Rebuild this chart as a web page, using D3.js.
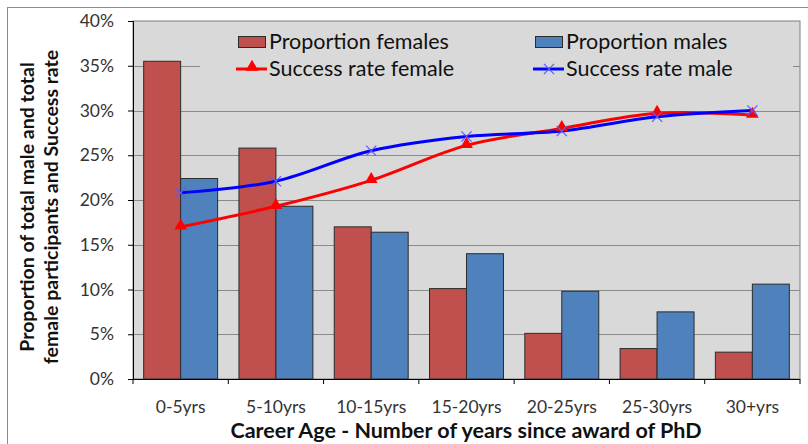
<!DOCTYPE html>
<html>
  <head>
    <meta charset="utf-8">
    <title>Career Age chart</title>
    <script src="https://d3js.org/d3.v7.min.js"></script>
    <style>
      body { margin: 0; background: #fff; }
      text { font-family: Lato, "Open Sans", sans-serif; }
    </style>
  </head>
  <body>
    <div id="chart"></div>
    <script>
      // chart data
      const categories = ["0-5yrs", "5-10yrs", "10-15yrs", "15-20yrs", "20-25yrs", "25-30yrs", "30+yrs"];
      const propFemales = [0.355, 0.258, 0.170, 0.101, 0.051, 0.034, 0.030];
      const propMales = [0.224, 0.193, 0.164, 0.140, 0.098, 0.075, 0.106];
      const successFemale = [0.170, 0.193, 0.222, 0.261, 0.280, 0.297, 0.295];
      const successMale = [0.208, 0.221, 0.255, 0.271, 0.277, 0.293, 0.300];
      const yTicks = [0, 0.05, 0.10, 0.15, 0.20, 0.25, 0.30, 0.35, 0.40];

      const W = 808, H = 444;
      const plot = {left: 133, right: 800, top: 21, bottom: 379};

      const svg = d3.select("#chart")
        .append("svg")
        .attr("width", W)
        .attr("height", H);

      // outer frame
      svg.append("rect")
        .attr("x", 7.5).attr("y", 7.5)
        .attr("width", W - 4).attr("height", H)
        .attr("fill", "#fff")
        .attr("stroke", "#8c8c8c");

      const x = d3.scaleBand()
        .domain(categories)
        .range([plot.left, plot.right])
        .paddingInner(0.224)
        .paddingOuter(0.112);
      const xSub = d3.scaleBand()
        .domain(["f", "m"])
        .range([0, x.bandwidth()]);
      const y = d3.scaleLinear()
        .domain([0, 0.4])
        .range([plot.bottom, plot.top]);

      // plot background
      svg.append("rect")
        .attr("x", plot.left).attr("y", plot.top)
        .attr("width", plot.right - plot.left)
        .attr("height", plot.bottom - plot.top)
        .attr("fill", "#d9d9d9")
        .attr("stroke", "#7f7f7f");

      // gridlines
      svg.append("g")
        .selectAll("line")
        .data(yTicks.slice(1, -1))
        .join("line")
        .attr("x1", plot.left).attr("x2", plot.right)
        .attr("y1", d => Math.round(y(d)) + 0.5)
        .attr("y2", d => Math.round(y(d)) + 0.5)
        .attr("stroke", "#8a8a8a")
        .attr("stroke-width", 1.2);

      // legend background hides gridline behind it
      svg.append("rect")
        .attr("x", 200).attr("y", 26)
        .attr("width", 593).attr("height", 60)
        .attr("fill", "#d9d9d9");

      // bars
      const groups = svg.append("g")
        .selectAll("g")
        .data(categories)
        .join("g")
        .attr("transform", d => `translate(${x(d)},0)`);
      groups.append("rect")
        .attr("x", xSub("f"))
        .attr("width", xSub.bandwidth())
        .attr("y", (d, i) => y(propFemales[i]))
        .attr("height", (d, i) => y(0) - y(propFemales[i]))
        .attr("fill", "#c0504d")
        .attr("stroke", "#2b2b2b")
        .attr("stroke-width", 1);
      groups.append("rect")
        .attr("x", xSub("m"))
        .attr("width", xSub.bandwidth())
        .attr("y", (d, i) => y(propMales[i]))
        .attr("height", (d, i) => y(0) - y(propMales[i]))
        .attr("fill", "#4f81bd")
        .attr("stroke", "#2b2b2b")
        .attr("stroke-width", 1);

      // axes
      const yAxis = d3.axisLeft(y)
        .tickValues(yTicks)
        .tickFormat(d3.format(".0%"))
        .tickSize(5)
        .tickPadding(14);
      const gy = svg.append("g")
        .attr("transform", `translate(${plot.left},0)`)
        .call(yAxis);
      gy.select(".domain").attr("stroke", "#000");
      gy.selectAll("text").attr("font-size", 17.5).attr("fill", "#333");

      const gx = svg.append("g");
      gx.append("line")
        .attr("x1", plot.left).attr("x2", plot.right)
        .attr("y1", plot.bottom + 0.5).attr("y2", plot.bottom + 0.5)
        .attr("stroke", "#000");
      gx.selectAll(".tick")
        .data(d3.range(categories.length + 1))
        .join("line")
        .attr("class", "tick")
        .attr("x1", i => plot.left + i * x.step())
        .attr("x2", i => plot.left + i * x.step())
        .attr("y1", plot.bottom).attr("y2", plot.bottom + 5)
        .attr("stroke", "#000");
      gx.selectAll("text")
        .data(categories)
        .join("text")
        .attr("x", d => x(d) + x.bandwidth() / 2)
        .attr("y", 413)
        .attr("text-anchor", "middle")
        .attr("font-size", 17.5)
        .attr("fill", "#333")
        .text(d => d);

      // success rate lines
      const line = d3.line()
        .x((d, i) => x(categories[i]) + x.bandwidth() / 2)
        .y(d => y(d))
        .curve(d3.curveCatmullRom.alpha(0.5));

      svg.append("path")
        .datum(successFemale)
        .attr("d", line)
        .attr("fill", "none")
        .attr("stroke", "#ff0000")
        .attr("stroke-width", 3);
      svg.append("path")
        .datum(successMale)
        .attr("d", line)
        .attr("fill", "none")
        .attr("stroke", "#0000ff")
        .attr("stroke-width", 3);

      const tri = d3.symbol().type(d3.symbolTriangle).size(70);
      svg.append("g")
        .selectAll("path")
        .data(successFemale)
        .join("path")
        .attr("d", tri)
        .attr("transform", (d, i) => `translate(${x(categories[i]) + x.bandwidth() / 2},${y(d) - 1})`)
        .attr("fill", "#ff0000");
      const cross = d3.symbol().type(d3.symbolX).size(70);
      svg.append("g")
        .selectAll("path")
        .data(successMale)
        .join("path")
        .attr("d", cross)
        .attr("transform", (d, i) => `translate(${x(categories[i]) + x.bandwidth() / 2},${y(d)})`)
        .attr("fill", "none")
        .attr("stroke", "#5a5aff")
        .attr("stroke-width", 1.2);

      // legend
      const legend = svg.append("g");
      legend.append("rect")
        .attr("x", 238.5).attr("y", 36.5).attr("width", 27).attr("height", 11)
        .attr("fill", "#c0504d").attr("stroke", "#2b2b2b");
      legend.append("rect")
        .attr("x", 535.5).attr("y", 36.5).attr("width", 27).attr("height", 11)
        .attr("fill", "#4f81bd").attr("stroke", "#2b2b2b");
      legend.append("line")
        .attr("x1", 236).attr("x2", 267).attr("y1", 69).attr("y2", 69)
        .attr("stroke", "#ff0000").attr("stroke-width", 3);
      legend.append("path")
        .attr("d", tri)
        .attr("transform", "translate(252,67)")
        .attr("fill", "#ff0000");
      legend.append("line")
        .attr("x1", 533).attr("x2", 564).attr("y1", 69).attr("y2", 69)
        .attr("stroke", "#0000ff").attr("stroke-width", 3);
      legend.append("path")
        .attr("d", cross)
        .attr("transform", "translate(549,69)")
        .attr("fill", "none").attr("stroke", "#5a5aff").attr("stroke-width", 1.2);
      const legendText = [
        {t: "Proportion females", x: 269, y: 49},
        {t: "Proportion males", x: 566, y: 49},
        {t: "Success rate female", x: 269, y: 76},
        {t: "Success rate male", x: 566, y: 76}
      ];
      legend.selectAll("text")
        .data(legendText)
        .join("text")
        .attr("x", d => d.x).attr("y", d => d.y)
        .attr("font-size", 21.5)
        .attr("fill", "#111")
        .text(d => d.t);

      // axis titles
      svg.append("text")
        .attr("x", 466).attr("y", 438)
        .attr("text-anchor", "middle")
        .attr("font-size", 21.5)
        .attr("font-weight", "bold")
        .attr("fill", "#111")
        .text("Career Age - Number of years since award of PhD");
      const yTitle = svg.append("text")
        .attr("transform", "translate(34,207) rotate(-90)")
        .attr("text-anchor", "middle")
        .attr("font-size", 19.5)
        .attr("font-weight", "bold")
        .attr("fill", "#111");
      yTitle.append("tspan").attr("x", 0).attr("dy", 0)
        .text("Proportion of total male and total");
      yTitle.append("tspan").attr("x", 0).attr("dy", 24)
        .text("female participants and Success rate");
    </script>
  </body>
</html>
